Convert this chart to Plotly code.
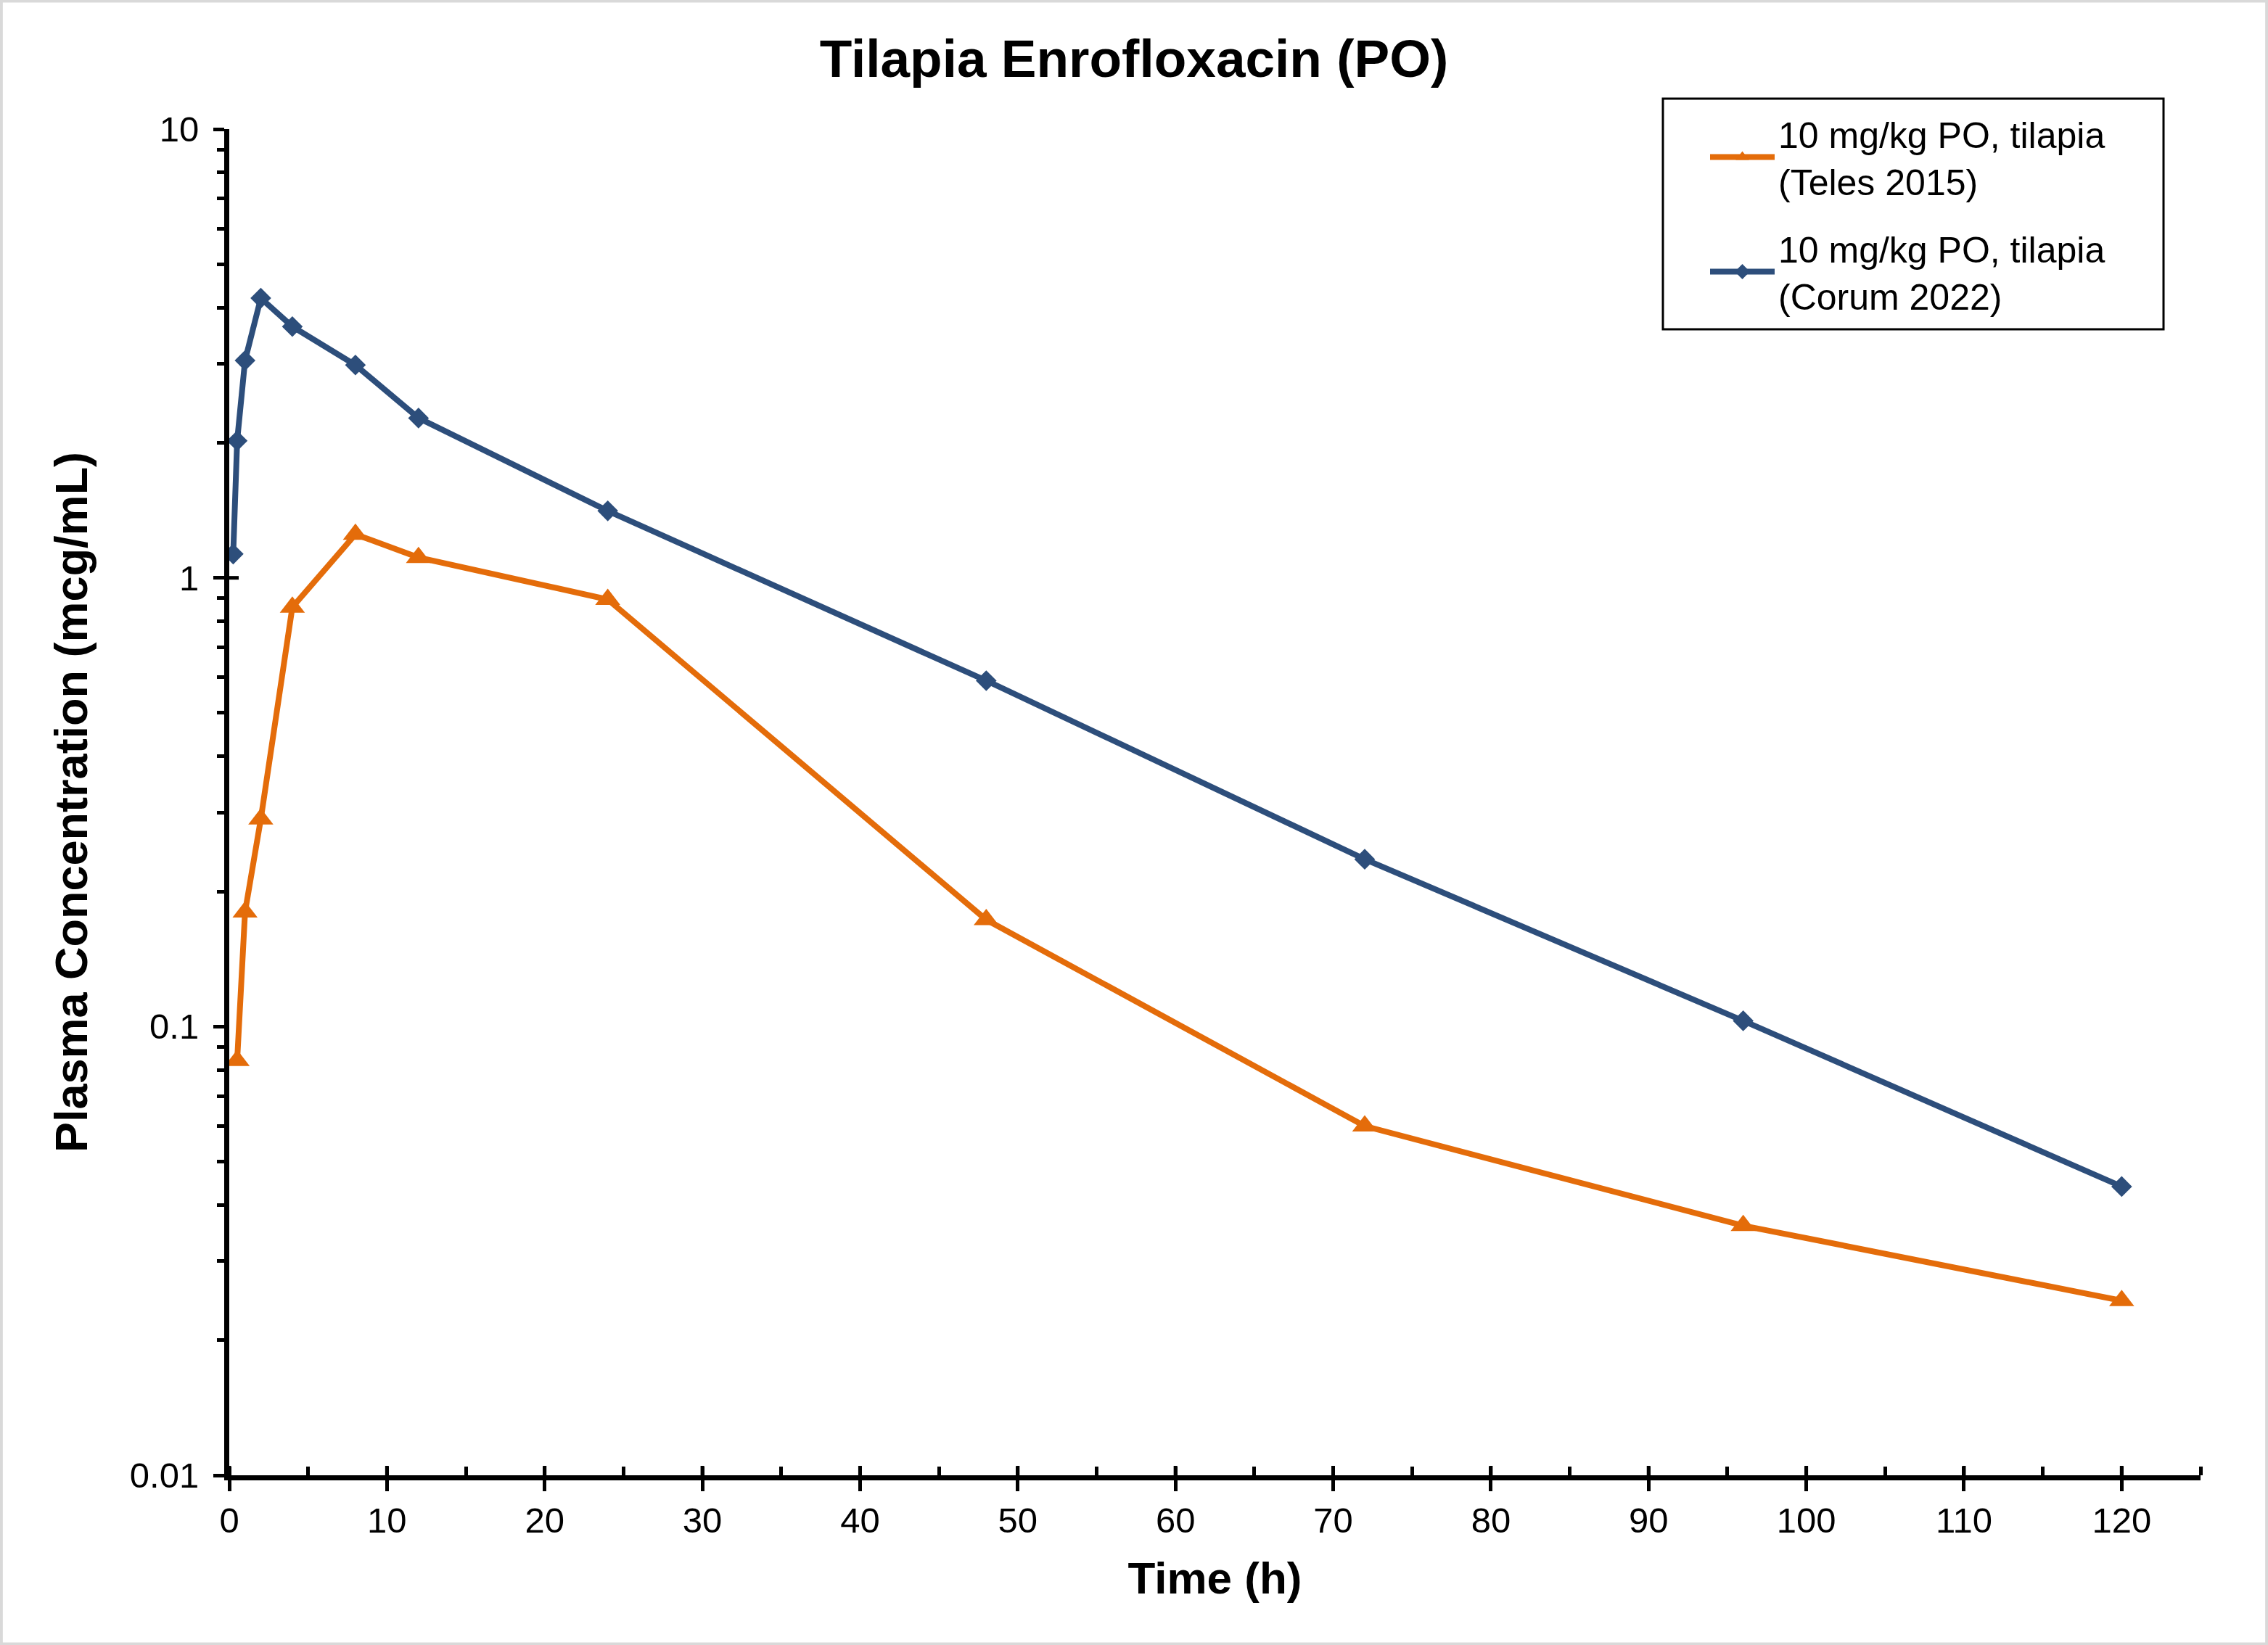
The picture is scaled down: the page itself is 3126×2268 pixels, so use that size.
import numpy as np
import plotly.graph_objects as go

# ---- data ----
time_teles = [0.5, 1, 2, 4, 8, 12, 24, 48, 72, 96, 120]
conc_teles = [0.084, 0.18, 0.29, 0.86, 1.25, 1.11, 0.895, 0.173, 0.060, 0.036, 0.0245]
time_corum = [0.25, 0.5, 1, 2, 4, 8, 12, 24, 48, 72, 96, 120]
conc_corum = [1.13, 2.02, 3.05, 4.2, 3.63, 2.98, 2.27, 1.41, 0.59, 0.236, 0.103, 0.044]

name_teles = "10 mg/kg PO, tilapia<br>(Teles 2015)"
name_corum = "10 mg/kg PO, tilapia<br>(Corum 2022)"

x_major = list(range(0, 121, 10))
y_major = [0.01, 0.1, 1, 10]
y_major_text = ["0.01", "0.1", "1", "10"]
y_minor = [m * d for d in (0.01, 0.1, 1) for m in range(2, 10)]

W, H = 3126, 2268
ML, MR, MT, MB = 316, 93, 178, 234
PW, PH = W - ML - MR, H - MT - MB

FONT = "Liberation Sans, Arial, sans-serif"
ORANGE = "#E46C0A"
BLUE = "#2D4E7B"

fig = go.Figure()
fig.add_trace(go.Scatter(
    x=time_teles, y=conc_teles, name=name_teles, mode="lines+markers",
    legendgroup="a",
    line=dict(color=ORANGE, width=8),
    marker=dict(symbol="triangle-up", size=30, color=ORANGE),
))
fig.add_trace(go.Scatter(
    x=time_corum, y=conc_corum, name=name_corum, mode="lines+markers",
    legendgroup="b",
    line=dict(color=BLUE, width=8),
    marker=dict(symbol="diamond", size=22, color=BLUE),
))

shapes = []
# inner halves of the major ticks (the reference ticks cross the axis)
for xv in x_major:
    shapes.append(dict(type="line", xref="x", yref="y domain", x0=xv, x1=xv,
                       y0=0, y1=13 / PH, line=dict(color="black", width=5)))
for yv in y_major:
    shapes.append(dict(type="line", xref="x domain", yref="y", x0=0, x1=13 / PW,
                       y0=np.log10(yv), y1=np.log10(yv), line=dict(color="black", width=5)))
# legend frame
shapes.append(dict(type="rect", xref="paper", yref="paper",
                   x0=(2292 - ML) / PW, x1=(2982 - ML) / PW,
                   y0=(H - MB - 454) / PH, y1=(H - MB - 136) / PH,
                   line=dict(color="black", width=3), fillcolor="white", layer="below"))
# outer light-grey frame of the image
shapes.append(dict(type="rect", xref="paper", yref="paper",
                   x0=-ML / PW + 0.0005, x1=1 + MR / PW - 0.0005,
                   y0=-MB / PH + 0.0006, y1=1 + MT / PH - 0.0006,
                   line=dict(color="#D9D9D9", width=5), layer="below"))

fig.update_layout(
    width=W, height=H,
    margin=dict(l=ML, r=MR, t=MT, b=MB, pad=0),
    paper_bgcolor="white", plot_bgcolor="rgba(0,0,0,0)",
    font=dict(family=FONT, color="black", size=49),
    title=dict(text="Tilapia Enrofloxacin (PO)", x=0.5, xref="container", xanchor="center",
               y=1 - 80 / H, yref="container", yanchor="middle",
               font=dict(family=FONT, size=73, weight="bold", color="black")),
    xaxis=dict(range=[0, 125], tickvals=x_major, showgrid=False, zeroline=False,
               showline=True, linecolor="black", linewidth=7,
               ticks="outside", ticklen=15, tickwidth=5, tickcolor="black",
               tickfont=dict(size=49), ticklabelstandoff=-2,
               minor=dict(dtick=5, tick0=0, ticks="inside", ticklen=12, tickwidth=5,
                          tickcolor="black", showgrid=False),
               title=dict(text="Time (h)", font=dict(size=62, weight="bold"), standoff=34)),
    yaxis=dict(type="log", range=[-2, 1], tickvals=y_major, ticktext=y_major_text,
               showgrid=False, zeroline=False,
               showline=True, linecolor="black", linewidth=7,
               ticks="outside", ticklen=15, tickwidth=5, tickcolor="black",
               tickfont=dict(size=49), ticklabelstandoff=10,
               minor=dict(tickvals=y_minor, ticks="outside", ticklen=10, tickwidth=5,
                          tickcolor="black", showgrid=False),
               title=dict(text="Plasma Concentration (mcg/mL)",
                          font=dict(size=63, weight="bold"), standoff=40)),
    legend=dict(x=(2352 - ML) / PW, y=(H - MB - 145) / PH, xanchor="left", yanchor="top",
                bgcolor="rgba(0,0,0,0)", borderwidth=0,
                font=dict(size=50, family=FONT), tracegroupgap=25,
                itemwidth=89),
    shapes=shapes,
    showlegend=True,
)

fig.write_html("out.html", config={"displayModeBar": False},
               post_script="document.body.style.margin='0px';")
